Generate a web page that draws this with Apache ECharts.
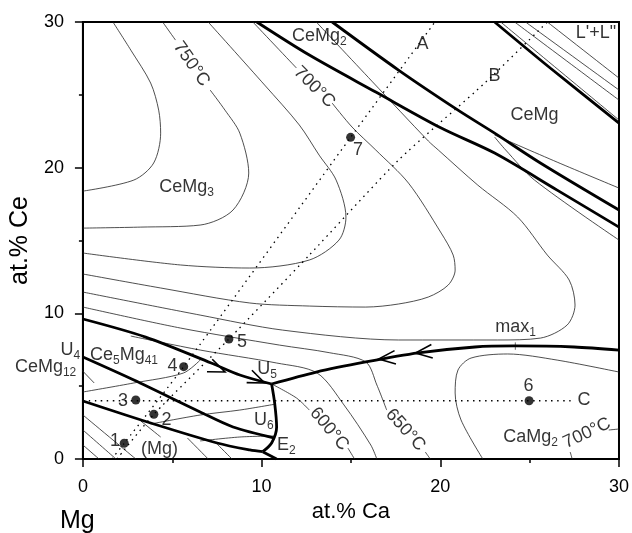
<!DOCTYPE html>
<html lang="en">
  <head>
    <meta charset="UTF-8" />
    <title>Mg-Ce-Ca liquidus</title>
    <script src="https://cdn.jsdelivr.net/npm/echarts@6.0.0/dist/echarts.min.js"></script>
    <style>
      body { margin: 0; background: #ffffff; }
      #chart { width: 632px; height: 533px; }
    </style>
  </head>
  <body>
    <div id="chart"></div>
    <script>
      // [at.% Ca, at.% Ce] pairs
      // thin liquidus isotherms
      var c1 = [[1.68,30],[2.68,28.07],[3.79,25.81],[4.24,23.95],[4.35,22.37],[3.96,20.32],[2.85,19.15],[0,18.39]];
      var c750a = [[4.46,30],[5.18,28.76]];
      var c750b = [[7.12,25.33],[7.95,23.95],[8.78,22.37],[9.28,19.63],[8.4,17.09],[6.56,16.06],[3.24,15.92],[0,15.85]];
      var c3 = [[7.01,30],[10.17,25.67],[12.11,22.93],[13.22,20.86],[14.17,19.15],[14.72,16.61],[14.33,15.03],[12.67,13.66],[9.34,13.11],[5.46,13.32],[0,14.14]];
      var c700a = [[9.51,30],[11.95,26.84]];
      var c700b = [[13.95,24.43],[15.06,22.79],[16.39,21.21],[18.22,18.94],[20.05,15.51],[20.72,14.0],[20.83,12.97],[20.44,11.94],[19.33,11.12],[17.66,10.64],[15.83,10.43],[12.67,10.5],[9.34,10.71],[4.35,11.74],[0,12.7]];
      var c5 = [[13.06,30],[16.17,25.94],[19.33,21.83],[19.89,21.21],[22.1,18.8],[24.33,16.61],[25.99,14.0],[27.21,12.29],[27.54,10.57],[27.1,9.2],[25.6,8.3],[23.21,8.17],[17.66,8.17],[11.17,8.85],[6.56,9.88],[0,11.46]];
      var c650a = [[0,10.43],[5.46,8.99],[11.0,7.82],[13.78,7.3],[15.83,6.66],[16.45,5.08],[17.0,3.36]];
      var c650b = [[19.16,0.48],[19.44,0]];
      var c600a = [[10.56,5.15],[11.95,4.19],[12.67,3.36]];
      var c600b = [[14.83,0.75],[15.2,0]];
      var c7 = [[2.68,8.44],[6.56,7.48],[10.84,6.59],[13.11,5.9],[14.61,3.71],[16.11,0.96],[16.45,0]];
      var c8 = [[0,4.6],[2.85,5.22],[5.62,5.9],[6.56,6.79]];
      var p1 = [[3.79,2.4],[6.56,3.02],[8.78,3.36],[10.78,3.77]];
      var p2 = [[6.56,1.24],[8.78,1.51],[10.68,1.58]];
      var m1 = [[0,3.02],[2.96,0]];
      var m2 = [[0,1.99],[1.85,0]];
      var m3 = [[0,0.96],[0.9,0]];
      var m4 = [[3.24,2.61],[4.35,1.51]];
      var m5 = [[5.85,1.44],[7.01,0]];
      var m6 = [[7.51,1.03],[8.34,0]];
      var caMg2Loop = [[22.38,0],[21.16,2.68],[20.83,4.53],[20.99,6.11],[21.72,6.93],[23.77,7.21],[26.54,6.79],[30,5.97]];
      var c700c1 = [[27.27,0.48],[27.38,0]];
      var c700c2 = [[29.43,1.99],[30,2.06]];
      var r1 = [[23.38,30],[30,23.27]];
      var r2 = [[24.16,30],[30,24.64]];
      var r3 = [[24.77,30],[30,25.33]];
      var r4 = [[25.99,30],[30,26.15]];
      var q1 = [[23.04,22.24],[26.54,20.38],[30,18.6]];
      var q2 = [[23.04,22.1],[23.66,21.21],[25.27,19.15],[30,15.03]];
      var max1Tick = [[24.2,8.0],[24.2,7.5]];
      var leader = [[-0.1,6.15],[0.63,5.22]];

      // thick univariant lines
      var tA = [[0,9.61],[3.51,8.37],[7.18,6.59],[8.78,5.77],[10.56,5.15]];
      var tB = [[0,7.0],[2.85,5.42],[6.56,3.23],[8.4,2.2],[10.73,1.44]];
      var tC = [[0,3.98],[3.79,2.47],[7.51,1.1],[9.34,0.62],[10.06,0.5]];
      var tD = [[10.56,5.15],[10.73,3.84],[10.84,2.2],[10.56,1.1],[10.06,0.5]];
      var tE2 = [[10.06,0.5],[10.84,0]];
      var tE = [[10.56,5.15],[13.06,5.97],[15.83,6.66],[18.77,7.28],[21.94,7.69],[24.16,7.76],[27.49,7.69],[30,7.48]];
      var tUp = [[13.95,30],[17.66,26.7],[20.99,23.95],[23.04,22.37],[25.6,20.32],[30,17.09]];
      var tLow = [[9.73,30],[12.67,27.73],[16.39,25.19],[20.05,22.72],[23.04,21.0],[26.54,18.46],[30,15.92]];
      var tRight = [[23.04,30],[26.15,26.84],[30,23.06]];

      // dotted sections
      var secA = [[1.62,0],[2.31,1.08],[5.64,6.34],[14.98,22.08],[19.7,30]];
      var secB = [[1.9,0],[3.97,3.07],[8.17,8.24],[12.67,14.0],[17.66,20.52],[22.49,25.81],[25.99,30]];
      var secC = [[0,4],[27.4,4]];

      // alloy compositions 1..7
      var alloys = [[2.31,1.08],[3.97,3.07],[2.96,4.05],[5.64,6.34],[8.17,8.24],[24.97,4.0],[14.98,22.08]];

      // arrow tips: [Ca, Ce, pointing direction in degrees]
      var arrows = [[18.61,7.28,186],[16.55,6.86,186],[7.95,5.97,-23],[10.17,5.22,-23]];

      // annotations: [Ca, Ce, text, rotation]
      var labels = [
        [13.23,29.03,"CeMg{s|2}",0],
        [19.0,28.48,"A",0],
        [23.04,26.29,"B",0],
        [28.71,29.24,"L'+L\"",0],
        [25.27,23.61,"CeMg",0],
        [5.8,18.67,"CeMg{s|3}",0],
        [6.07,27.11,"750°C",-55],
        [12.95,25.53,"700°C",-45],
        [2.3,7.14,"Ce{s|5}Mg{s|41}",0],
        [-0.7,7.48,"U{s|4}",0],
        [-2.09,6.31,"CeMg{s|12}",0],
        [10.3,6.2,"U{s|5}",0],
        [10.12,2.68,"U{s|6}",0],
        [11.39,0.96,"E{s|2}",0],
        [4.29,0.69,"(Mg)",0],
        [13.78,2.06,"600°C",-50],
        [18.05,1.99,"650°C",-48],
        [24.21,9.06,"max{s|1}",0],
        [25.05,1.51,"CaMg{s|2}",0],
        [28.21,1.78,"700°C",25],
        [28.04,4.05,"C",0],
        [1.79,1.24,"1",0],
        [4.68,2.68,"2",0],
        [2.24,3.98,"3",0],
        [5.01,6.38,"4",0],
        [8.9,8.03,"5",0],
        [24.93,5.01,"6",0],
        [15.39,21.21,"7",0]
      ];

      var thinLines = [c1, c750a, c750b, c3, c700a, c700b, c5, c650a, c650b, c600a, c600b, c7, c8,
        p1, p2, m1, m2, m3, m4, m5, m6, caMg2Loop, c700c1, c700c2, r1, r2, r3, r4, q1, q2, max1Tick];
      var thickLines = [tA, tB, tC, tD, tE2, tE, tUp, tLow, tRight];
      var dotted = [secA, secB, secC];

      const font = "'Liberation Sans', Arial, sans-serif";
      const chart = echarts.init(document.getElementById("chart"));

      var series = [];
      thinLines.forEach(function (d) {
        series.push({
          type: "line", data: d, showSymbol: false, smooth: 0.3, silent: true,
          lineStyle: { color: "#222", width: 0.8 }
        });
      });
      series.push({
        type: "line", data: leader, showSymbol: false, clip: false, silent: true,
        lineStyle: { color: "#222", width: 0.8 }
      });
      thickLines.forEach(function (d) {
        series.push({
          type: "line", data: d, showSymbol: false, smooth: 0.3, silent: true,
          lineStyle: { color: "#000", width: 2.8 }
        });
      });
      dotted.forEach(function (d) {
        series.push({
          type: "line", data: d, showSymbol: false, smooth: 0.2, silent: true,
          lineStyle: { color: "#000", width: 1.3, type: [1.5, 4.5] }
        });
      });
      series.push({
        type: "scatter", data: alloys, symbolSize: 9, silent: true,
        itemStyle: { color: "#000" }, z: 5
      });
      // open chevron arrow heads drawn at the tip, barbs pointing back
      series.push({
        type: "custom", data: arrows, silent: true, z: 5,
        renderItem: function (params, api) {
          var p = api.coord([api.value(0), api.value(1)]);
          var back = (api.value(2) + 180) * Math.PI / 180;
          var spread = 22 * Math.PI / 180, len = 18;
          var b1 = back + spread, b2 = back - spread;
          return {
            type: "polyline",
            shape: { points: [
              [p[0] + len * Math.cos(b1), p[1] - len * Math.sin(b1)],
              p,
              [p[0] + len * Math.cos(b2), p[1] - len * Math.sin(b2)]
            ] },
            style: { stroke: "#000", lineWidth: 1.6, fill: null }
          };
        }
      });
      series.push({
        type: "scatter", silent: true, clip: false, symbolSize: 0, z: 6,
        data: labels.map(function (l) {
          return { value: [l[0], l[1]], label: { formatter: l[2], rotate: l[3] } };
        }),
        label: {
          show: true, position: "inside", color: "#000", fontSize: 18, fontFamily: font,
          rich: { s: { fontSize: 12, fontFamily: font, color: "#000", padding: [12, 0, 0, 0] } }
        }
      });

      const axisCommon = {
        type: "value", min: 0, max: 30, interval: 10,
        axisLine: { lineStyle: { color: "#000", width: 2 } },
        axisTick: { inside: false, length: 8, lineStyle: { color: "#000", width: 1.5 } },
        minorTick: { show: true, splitNumber: 2, length: 4, lineStyle: { color: "#000", width: 1.5 } },
        splitLine: { show: false },
        axisLabel: { color: "#000", fontSize: 18, fontFamily: font, margin: 19 },
        nameLocation: "middle",
        nameTextStyle: { color: "#000", fontSize: 22, fontFamily: font }
      };

      const options = {
        animation: false,
        grid: { left: 82, right: 10, top: 22, bottom: 74, show: true, borderColor: "#000", borderWidth: 2 },
        xAxis: Object.assign({}, axisCommon, { name: "at.% Ca", nameGap: 40 }),
        yAxis: Object.assign({}, axisCommon, {
          name: "at.% Ce", nameGap: 48,
          nameTextStyle: { color: "#000", fontSize: 25, fontFamily: font }
        }),
        graphic: [{
          type: "text", left: 60, top: 509,
          style: { text: "Mg", fontSize: 25, fontFamily: font, fill: "#000" }
        }],
        series: series
      };

      chart.setOption(options);
    </script>
  </body>
</html>
